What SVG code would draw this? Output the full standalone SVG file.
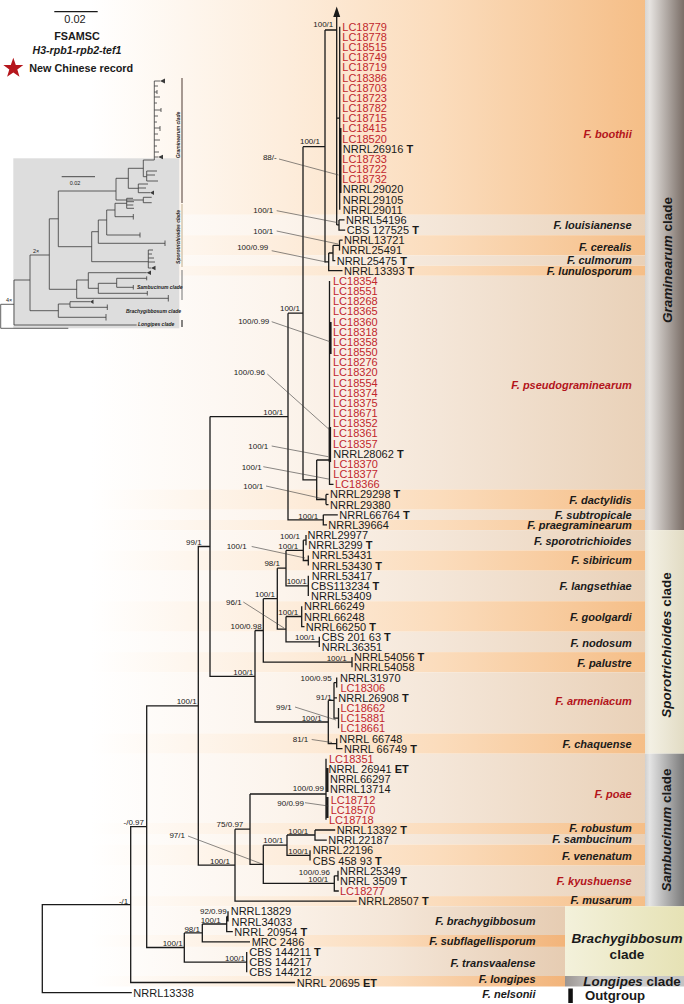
<svg xmlns="http://www.w3.org/2000/svg" width="684" height="1004" viewBox="0 0 684 1004">
<defs>
<linearGradient id="gO" gradientUnits="userSpaceOnUse" x1="90" y1="0" x2="645" y2="0">
<stop offset="0" stop-color="#ffffff"/><stop offset="0.35" stop-color="#fdeddc"/><stop offset="0.63" stop-color="#fbdcbc"/><stop offset="1" stop-color="#f5be87"/>
</linearGradient>
<linearGradient id="gL" gradientUnits="userSpaceOnUse" x1="90" y1="0" x2="645" y2="0">
<stop offset="0" stop-color="#ffffff"/><stop offset="0.35" stop-color="#fcf4ec"/><stop offset="0.63" stop-color="#f4e6d8"/><stop offset="1" stop-color="#e9d1b8"/>
</linearGradient>
<linearGradient id="gO2" gradientUnits="userSpaceOnUse" x1="90" y1="0" x2="565" y2="0">
<stop offset="0" stop-color="#ffffff"/><stop offset="0.35" stop-color="#fdeddc"/><stop offset="0.63" stop-color="#fbdcbc"/><stop offset="1" stop-color="#f2b47a"/>
</linearGradient>
<linearGradient id="gL2" gradientUnits="userSpaceOnUse" x1="90" y1="0" x2="565" y2="0">
<stop offset="0" stop-color="#ffffff"/><stop offset="0.35" stop-color="#fcf4ec"/><stop offset="0.63" stop-color="#f4e6d8"/><stop offset="1" stop-color="#e6ccb2"/>
</linearGradient>
<linearGradient id="gGram" gradientUnits="userSpaceOnUse" x1="645" y1="0" x2="684" y2="0">
<stop offset="0" stop-color="#d8d5d2"/><stop offset="0.12" stop-color="#e6e3e0"/><stop offset="1" stop-color="#7a6e67"/>
</linearGradient>
<linearGradient id="gSpor" gradientUnits="userSpaceOnUse" x1="645" y1="0" x2="684" y2="0">
<stop offset="0" stop-color="#e8e4d8"/><stop offset="0.12" stop-color="#f3f0e4"/><stop offset="1" stop-color="#e2dcc4"/>
</linearGradient>
<linearGradient id="gSamb" gradientUnits="userSpaceOnUse" x1="645" y1="0" x2="684" y2="0">
<stop offset="0" stop-color="#d0d0d0"/><stop offset="0.12" stop-color="#e4e4e4"/><stop offset="1" stop-color="#7a7a7a"/>
</linearGradient>
<linearGradient id="gBrach" gradientUnits="userSpaceOnUse" x1="565" y1="0" x2="684" y2="0">
<stop offset="0" stop-color="#f3f1db"/><stop offset="1" stop-color="#e6e2b5"/>
</linearGradient>
<linearGradient id="gLong" gradientUnits="userSpaceOnUse" x1="565" y1="0" x2="684" y2="0">
<stop offset="0" stop-color="#9a9592"/><stop offset="0.3" stop-color="#d4d2d0"/><stop offset="1" stop-color="#c4c4c4"/>
</linearGradient>
<style>
text{font-family:"Liberation Sans",Arial,sans-serif}
.t{font-size:11px;fill:#1a1a1a}
.r{font-size:11px;fill:#c1272d}
.b{font-weight:bold}
.sp{font-size:11px;font-weight:bold;font-style:italic;text-anchor:end;fill:#1a1a1a}
.spr{fill:#b3141b}
.n{font-size:8px;text-anchor:end;fill:#1a1a1a}
.br{fill:none;stroke:#1a1a1a;stroke-width:1.3}
.th{fill:none;stroke:#1a1a1a;stroke-width:2.4}
.ld{fill:none;stroke:#3a3a3a;stroke-width:0.6}
.cl{font-size:13.5px;font-weight:bold;fill:#1a1a1a}
.in{fill:none;stroke:#3a3a3a;stroke-width:0.8}
.it{font-size:5px;font-weight:bold;font-style:italic;fill:#222}
</style>
</defs>
<rect width="684" height="1004" fill="#ffffff"/>
<g id="bands">
<rect x="0" y="0" width="645" height="214.8" fill="url(#gO)"/>
<rect x="0" y="214.8" width="645" height="20.4" fill="url(#gL)"/>
<rect x="0" y="235.2" width="645" height="20.3" fill="url(#gO)"/>
<rect x="0" y="255.5" width="645" height="10.2" fill="url(#gL)"/>
<rect x="0" y="265.7" width="645" height="10.1" fill="url(#gO)"/>
<rect x="0" y="275.8" width="645" height="213.6" fill="url(#gL)"/>
<rect x="0" y="489.4" width="645" height="20.3" fill="url(#gO)"/>
<rect x="0" y="509.7" width="645" height="10.3" fill="url(#gL)"/>
<rect x="0" y="520" width="645" height="10.1" fill="url(#gO)"/>
<rect x="0" y="530.1" width="645" height="20.3" fill="url(#gL)"/>
<rect x="0" y="550.4" width="645" height="20.3" fill="url(#gO)"/>
<rect x="0" y="570.7" width="645" height="30.5" fill="url(#gL)"/>
<rect x="0" y="601.2" width="645" height="30.5" fill="url(#gO)"/>
<rect x="0" y="631.7" width="645" height="20.4" fill="url(#gL)"/>
<rect x="0" y="652.1" width="645" height="20.3" fill="url(#gO)"/>
<rect x="0" y="672.4" width="645" height="61" fill="url(#gL)"/>
<rect x="0" y="733.4" width="645" height="20.3" fill="url(#gO)"/>
<rect x="0" y="753.7" width="645" height="69.3" fill="url(#gL)"/>
<rect x="0" y="823" width="645" height="11" fill="url(#gO)"/>
<rect x="0" y="834" width="645" height="10.5" fill="url(#gL)"/>
<rect x="0" y="844.5" width="645" height="21.1" fill="url(#gO)"/>
<rect x="0" y="865.6" width="645" height="30.5" fill="url(#gL)"/>
<rect x="0" y="896.1" width="645" height="10.2" fill="url(#gO)"/>
<rect x="0" y="906.3" width="565" height="28.7" fill="url(#gL2)"/>
<rect x="0" y="935" width="565" height="11.9" fill="url(#gO2)"/>
<rect x="0" y="946.9" width="565" height="29.1" fill="url(#gL2)"/>
<rect x="0" y="976" width="565" height="10.5" fill="url(#gO2)"/>
</g>
<g id="clade-bars">
<rect x="645" y="0" width="39" height="530.1" fill="url(#gGram)"/>
<rect x="645" y="530.1" width="39" height="223.6" fill="url(#gSpor)"/>
<rect x="645" y="753.7" width="39" height="152.6" fill="url(#gSamb)"/>
<rect x="565" y="906.3" width="119" height="69.7" fill="url(#gBrach)"/>
<rect x="565" y="976" width="119" height="10.5" fill="url(#gLong)"/>
<rect x="568.3" y="988.5" width="4.5" height="14.5" fill="#111"/>
<text class="cl" transform="rotate(-90 667.5 260)" x="667.5" y="264.8" text-anchor="middle"><tspan font-style="italic">Graminearum</tspan> clade</text>
<text class="cl" transform="rotate(-90 666.5 645)" x="666.5" y="649.8" text-anchor="middle"><tspan font-style="italic">Sporotrichioides</tspan> clade</text>
<text class="cl" transform="rotate(-90 666.5 830)" x="666.5" y="834.8" text-anchor="middle"><tspan font-style="italic">Sambucinum</tspan> clade</text>
<text class="cl" x="627" y="943" text-anchor="middle" font-style="italic" style="font-size:13.6px">Brachygibbosum</text>
<text class="cl" x="627" y="959" text-anchor="middle" style="font-size:13.6px">clade</text>
<text class="cl" x="583.3" y="985.5" style="font-size:13.4px"><tspan font-style="italic">Longipes</tspan> clade</text>
<text class="cl" x="585" y="1000" style="font-size:13.2px">Outgroup</text>
</g>
<g id="inset">
<rect x="13.3" y="158.3" width="166" height="170" fill="#dddddd"/>
<path class="in" d="M0.7,304.3V328.3H68.3M0.7,304.3H14M14,280V325H136.7M14,280H30M30,255V310.7H58.3M30,255H49.3M58.3,304V317.3H106M106,314V320.5M58.3,304H70M70,301.7V307.3H107.3M107.3,304.5V310M70,301.7H90M49.3,218.8V289.3H76.7M49.3,218.8H58.3M76.7,280V298.3H168.3M168.3,295V301.5M76.7,280H88.3M88.3,272.7V288.3H98.3M88.3,272.7H146.7M98.3,283.3V293.3H147.3M147.3,291V295.5M98.3,283.3H116.7M116.7,278.3V287.3H133.3M133.3,285V289.5M116.7,278.3H146.7M146.7,276.3V280.3M58.3,191V246.7H91.7M58.3,191H116M91.7,231.7V261.7H148.3M148.3,250V268M148.3,250H153M148.3,254H152M148.3,258H154M148.3,262H155M148.3,268H151M91.7,231.7H98.3M98.3,220V243.3H165M165,240.5V246M98.3,220H106.7M106.7,210V235H140M140,232.5V237.5M106.7,210H115M115,203.3V216.7H133.3M133.3,214V219.5M115,203.3H126.7M126.7,198.3V208.3M126.7,198.3H133M126.7,201.7H134M126.7,205H133.3M126.7,208.3H134M116,178.3V200H143.3M143.3,197.3V202.7M143.3,197.3H151.7M143.3,202.7H151.7M116,178.3H128.3M128.3,168.3V188.3H138.3M138.3,184V192.7M138.3,184H148M138.3,188H146M138.3,192.7H150M128.3,168.3H143.3M143.3,160V176.7H146.7M146.7,171V181M146.7,171H157M146.7,175H155M146.7,181H158M143.3,160H154.3M154.3,81V160M154.3,81H160M154.3,86H158M154.3,92H157M157,90V94M154.3,97H160M154.3,103H157M154.3,110H161M161,108V112M154.3,116H158M154.3,122H157M154.3,128H160M160,126V131M154.3,134H158M154.3,140H160M154.3,146H157M154.3,152H159M154.3,157H158"/>
<g fill="#3a3a3a">
<polygon points="90,301.7 93.5,299.5 93.5,303.9"/>
<polygon points="146.7,272.7 151,270.5 151,274.9"/>
<polygon points="151,268 155.5,265.8 155.5,270.2"/>
<polygon points="150,192.7 154,190.5 154,194.9"/>
<polygon points="160,81 165,78.5 165,83.5"/>
<polygon points="158,157 163,154.7 163,159.3"/>
</g>
<path d="M61.7,176.7H95" stroke="#222" stroke-width="0.8"/>
<text x="75" y="184.5" text-anchor="middle" style="font-size:5.5px;fill:#222">0.02</text>
<text x="33" y="252.5" style="font-size:5.5px;fill:#222">2×</text>
<text x="6" y="302" style="font-size:5.5px;fill:#222">4×</text>
<line x1="182" y1="78" x2="182" y2="203" stroke="#6b5a52" stroke-width="1.2"/>
<line x1="182" y1="204" x2="182" y2="267" stroke="#cbbb9e" stroke-width="1.2"/>
<line x1="182" y1="270" x2="182" y2="300" stroke="#8a8a8a" stroke-width="1.2"/>
<line x1="182" y1="320" x2="182" y2="327" stroke="#333" stroke-width="1.2"/>
<text class="it" transform="rotate(-90 178.5 135)" x="178.5" y="136.8" text-anchor="middle">Graminearum clade</text>
<text class="it" transform="rotate(-90 178.5 237)" x="178.5" y="238.8" text-anchor="middle">Sporotrichioides clade</text>
<text class="it" x="137" y="288.5">Sambucinum clade</text>
<text class="it" x="126" y="312.5">Brachygibbosum clade</text>
<text class="it" x="138" y="325.5">Longipes clade</text>
</g>
<g id="legend">
<path d="M54.3,11.7H97.7" stroke="#1a1a1a" stroke-width="1.3"/>
<text x="75" y="23.3" text-anchor="middle" style="font-size:11px;fill:#1a1a1a">0.02</text>
<text x="77" y="40" text-anchor="middle" class="b" style="font-size:10.8px;fill:#1a1a1a">FSAMSC</text>
<text x="77" y="54" text-anchor="middle" class="b" style="font-size:10.6px;font-style:italic;fill:#1a1a1a">H3-rpb1-rpb2-tef1</text>
<polygon points="13.3,57.8 15.8,64.9 23.3,65.1 17.3,69.6 19.5,76.8 13.3,72.5 7.1,76.8 9.3,69.6 3.3,65.1 10.8,64.9" fill="#b5161c"/>
<text x="29.3" y="72.3" class="b" style="font-size:10.8px;fill:#1a1a1a">New Chinese record</text>
</g>
<g id="connectors">
<path class="br" d="M130.7,904.6H42.3V992.7H131.8M146.7,826.7H130.7V982.5H295M198.3,705.9H146.7V947.5H184.3M184.3,932.9V962.2H246.7M184.3,932.9H202.3M202.3,924V941.8H250M202.3,924H226.7M226.7,916.4V931.7H232.8M226.7,916.4H228M228,911.3V921.5M246.7,952V972.3M210,546.5H198.3V865.2H235M235,829.2V901.2H356.7M235,829.2H250M250,794V864.3H263.3M250,794H326M326,758.8V819.8M263.3,845.2V883.4H334.3M263.3,845.2H287M287,835V855.4H310M287,835H315M315,830V840.1H326.8M315,830H335.2M310,850.3V860.5M334.3,875.8V891H338.8M334.3,875.8H338M338,870.7V880.8M210,416.6V676.3H255M255,630.5V722H328.3M255,630.5H263.3M263.3,598.7V662.2H352M352,657.1V667.3M263.3,598.7H277.3M277.3,568.2V629.2H286M286,616.5V641.9H319.3M286,616.5H301.7M301.7,606.3V626.6H304.5M319.3,636.8V647M277.3,568.2H286M286,550.4V585.9H308.3M286,550.4H303.3M303.3,540.2V560.5H308.3M303.3,540.2H306M306,535.1V545.3M308.3,555.4V565.6M308.3,575.8V596.1M328.3,700.4V743.6H336.7M328.3,700.4H334M334,682.6V718.2H338.5M334,682.6H336.7M334,697.8H337M336.7,677.5V687.6M338.5,708V728.3M336.7,738.5V748.6H342.5M210,416.6H288M288,313.2V519.9H323.3M323.3,514.8V524.9H327M323.3,514.8H337.8M288,313.2H303M303,146.7V479.8H316.7M316.7,460V499.5H326M326,494.4V504.6M326,494.4H328.5M326,504.6H328.5M316.7,460H329.5M329.5,280.9V484.3H333.5M303,146.7H325M325,30V261.9H328.7M325,30H336.7M336.7,224.9V16M336.7,224.9H339M339,219.9V230.1H345.2M339,219.9H344.5M336.7,118.2H339.7M339.7,26.7V209.7M328.7,253V270.7H342.5M328.7,253H333M333,245.3V260.6H335.3M333,245.3H339.5M339.5,240.2V250.4M339.5,240.2H342.6"/>
<path class="th" d="M340.3,128V193M330.4,322V354M329.9,427V462M327.3,768V792M327.3,797V818"/>
<polygon points="336.7,6.5 333.2,17 340.2,17" fill="#1a1a1a"/>
<path class="ld" d="M279,159L338.5,175M276.7,210.7L337,222.5M276.7,231L338,244M271.7,250.7L326,262M271.7,321.7L330,341.7M267.3,374L329,429.3M271.7,446L328.3,456.7M263.3,466.7L330,479.3M266,486L324,499M251.7,546.5L305,558M243.3,602L284,628M295,707L336,720M311.7,739.5L332,742.5M305,802.7L328.3,806M188,836L262,864"/>
</g>
<g id="support-values">
<text class="n" x="333.3" y="27">100/1</text>
<text class="n" x="320" y="143.5">100/1</text>
<text class="n" x="276.7" y="160">88/-</text>
<text class="n" x="273.3" y="213">100/1</text>
<text class="n" x="273.3" y="233.5">100/1</text>
<text class="n" x="268.3" y="250">100/0.99</text>
<text class="n" x="300" y="311">100/1</text>
<text class="n" x="269.3" y="323.5">100/0.99</text>
<text class="n" x="265" y="374.5">100/0.96</text>
<text class="n" x="283.3" y="414.5">100/1</text>
<text class="n" x="268.3" y="448.5">100/1</text>
<text class="n" x="261.7" y="469.5">100/1</text>
<text class="n" x="263.3" y="488.5">100/1</text>
<text class="n" x="318.3" y="518.5">100/1</text>
<text class="n" x="300" y="538.5">100/1</text>
<text class="n" x="298.3" y="548.8">100/1</text>
<text class="n" x="246.7" y="549">100/1</text>
<text class="n" x="280" y="566">98/1</text>
<text class="n" x="306.7" y="584">100/1</text>
<text class="n" x="275" y="596.5">100/1</text>
<text class="n" x="241.7" y="604.5">96/1</text>
<text class="n" x="298.3" y="615">100/1</text>
<text class="n" x="261.7" y="629">100/0.98</text>
<text class="n" x="315" y="639.5">100/1</text>
<text class="n" x="346.7" y="661">100/1</text>
<text class="n" x="253.3" y="675">100/1</text>
<text class="n" x="331.7" y="681">100/0.95</text>
<text class="n" x="331.7" y="699.5">91/1</text>
<text class="n" x="291.7" y="709.5">99/1</text>
<text class="n" x="321.7" y="720.5">100/1</text>
<text class="n" x="308.3" y="742">81/1</text>
<text class="n" x="324" y="791">100/0.99</text>
<text class="n" x="304" y="805.5">90/0.99</text>
<text class="n" x="243.3" y="827">75/0.97</text>
<text class="n" x="308.3" y="833.5">100/1</text>
<text class="n" x="283.3" y="843">100/1</text>
<text class="n" x="185" y="838">97/1</text>
<text class="n" x="308.3" y="854">100/1</text>
<text class="n" x="230" y="863.5">100/1</text>
<text class="n" x="330" y="874.5">100/0.96</text>
<text class="n" x="328.3" y="882">100/1</text>
<text class="n" x="128.3" y="903.5">-/1</text>
<text class="n" x="226.7" y="913.5">92/0.99</text>
<text class="n" x="220.7" y="922.5">100/1</text>
<text class="n" x="200" y="931.5">98/1</text>
<text class="n" x="182.7" y="946">100/1</text>
<text class="n" x="245" y="960.5">100/1</text>
<text class="n" x="201.7" y="545">99/1</text>
<text class="n" x="196.7" y="704">100/1</text>
<text class="n" x="144" y="824.5">-/0.97</text>
</g>
<g id="sp-boothii">
<text class="r" x="342.3" y="30.7">LC18779</text>
<text class="r" x="342.3" y="40.9">LC18778</text>
<text class="r" x="342.3" y="51">LC18515</text>
<text class="r" x="342.3" y="61.2">LC18749</text>
<text class="r" x="342.3" y="71.4">LC18719</text>
<text class="r" x="342.3" y="81.5">LC18386</text>
<text class="r" x="342.3" y="91.7">LC18703</text>
<text class="r" x="342.3" y="101.9">LC18723</text>
<text class="r" x="342.3" y="112">LC18782</text>
<text class="r" x="342.3" y="122.2">LC18715</text>
<text class="r" x="342.3" y="132.4">LC18415</text>
<text class="r" x="342.3" y="142.5">LC18520</text>
<text class="t" x="342.8" y="152.7">NRRL26916 <tspan class="b">T</tspan></text>
<text class="r" x="342.3" y="162.9">LC18733</text>
<text class="r" x="342.3" y="173.1">LC18722</text>
<text class="r" x="342.3" y="183.2">LC18732</text>
<text class="t" x="342.8" y="193.4">NRRL29020</text>
<text class="t" x="342.8" y="203.6">NRRL29105</text>
<text class="t" x="342.8" y="213.7">NRRL29011</text>
<text class="sp spr" x="631.7" y="137.5">F. boothii</text>
</g>
<g id="sp-louisianense">
<text class="t" x="346" y="223.9">NRRL54196</text>
<text class="t" x="346.7" y="234.1">CBS 127525 <tspan class="b">T</tspan></text>
<text class="sp" x="631.7" y="229.3">F. louisianense</text>
</g>
<g id="sp-cerealis">
<text class="t" x="344" y="244.2">NRRL13721</text>
<text class="t" x="341.5" y="254.4">NRRL25491</text>
<text class="sp" x="631.7" y="250.5">F. cerealis</text>
</g>
<g id="sp-culmorum">
<text class="t" x="336.7" y="264.6">NRRL25475 <tspan class="b">T</tspan></text>
<text class="sp" x="631.7" y="264">F. culmorum</text>
</g>
<g id="sp-lunulosporum">
<text class="t" x="344" y="274.7">NRRL13393 <tspan class="b">T</tspan></text>
<text class="sp" x="631.7" y="274.5">F. lunulosporum</text>
</g>
<g id="sp-pseudograminearum">
<text class="r" x="333" y="284.9">LC18354</text>
<text class="r" x="333" y="295.1">LC18551</text>
<text class="r" x="333" y="305.2">LC18268</text>
<text class="r" x="333" y="315.4">LC18365</text>
<text class="r" x="333" y="325.6">LC18360</text>
<text class="r" x="333" y="335.7">LC18318</text>
<text class="r" x="333" y="345.9">LC18358</text>
<text class="r" x="333" y="356.1">LC18550</text>
<text class="r" x="333" y="366.2">LC18276</text>
<text class="r" x="333" y="376.4">LC18320</text>
<text class="r" x="333" y="386.6">LC18554</text>
<text class="r" x="333" y="396.7">LC18374</text>
<text class="r" x="333" y="406.9">LC18375</text>
<text class="r" x="333" y="417.1">LC18671</text>
<text class="r" x="333" y="427.3">LC18352</text>
<text class="r" x="333" y="437.4">LC18361</text>
<text class="r" x="333" y="447.6">LC18357</text>
<text class="t" x="333.3" y="457.8">NRRL28062 <tspan class="b">T</tspan></text>
<text class="r" x="333.3" y="467.9">LC18370</text>
<text class="r" x="333.3" y="478.1">LC18377</text>
<text class="r" x="335" y="488.3">LC18366</text>
<text class="sp spr" x="631.7" y="388.5">F. pseudograminearum</text>
</g>
<g id="sp-dactylidis">
<text class="t" x="330" y="498.4">NRRL29298 <tspan class="b">T</tspan></text>
<text class="t" x="330" y="508.6">NRRL29380</text>
<text class="sp" x="631.7" y="503.5">F. dactylidis</text>
</g>
<g id="sp-subtropicale">
<text class="t" x="339.3" y="518.8">NRRL66764 <tspan class="b">T</tspan></text>
<text class="sp" x="631.7" y="518.5">F. subtropicale</text>
</g>
<g id="sp-praegraminearum">
<text class="t" x="328.3" y="528.9">NRRL39664</text>
<text class="sp" x="631.7" y="528.5">F. praegraminearum</text>
</g>
<g id="sp-sporotrichioides">
<text class="t" x="307.5" y="539.1">NRRL29977</text>
<text class="t" x="308.3" y="549.3">NRRL3299 <tspan class="b">T</tspan></text>
<text class="sp" x="631.7" y="544.5">F. sporotrichioides</text>
</g>
<g id="sp-sibiricum">
<text class="t" x="311.7" y="559.4">NRRL53431</text>
<text class="t" x="311.7" y="569.6">NRRL53430 <tspan class="b">T</tspan></text>
<text class="sp" x="631.7" y="564.3">F. sibiricum</text>
</g>
<g id="sp-langsethiae">
<text class="t" x="311.7" y="579.8">NRRL53417</text>
<text class="t" x="311" y="589.9">CBS113234 <tspan class="b">T</tspan></text>
<text class="t" x="311" y="600.1">NRRL53409</text>
<text class="sp" x="631.7" y="589.5">F. langsethiae</text>
</g>
<g id="sp-goolgardi">
<text class="t" x="304" y="610.3">NRRL66249</text>
<text class="t" x="304" y="620.5">NRRL66248</text>
<text class="t" x="305.7" y="630.6">NRRL66250 <tspan class="b">T</tspan></text>
<text class="sp" x="631.7" y="620.5">F. goolgardi</text>
</g>
<g id="sp-nodosum">
<text class="t" x="321.7" y="640.8">CBS 201 63 <tspan class="b">T</tspan></text>
<text class="t" x="321.7" y="651">NRRL36351</text>
<text class="sp" x="631.7" y="646.5">F. nodosum</text>
</g>
<g id="sp-palustre">
<text class="t" x="354" y="661.1">NRRL54056 <tspan class="b">T</tspan></text>
<text class="t" x="354" y="671.3">NRRL54058</text>
<text class="sp" x="631.7" y="666.5">F. palustre</text>
</g>
<g id="sp-armeniacum">
<text class="t" x="340" y="681.5">NRRL31970</text>
<text class="r" x="340.5" y="691.6">LC18306</text>
<text class="t" x="338.3" y="701.8">NRRL26908 <tspan class="b">T</tspan></text>
<text class="r" x="340.5" y="712">LC18662</text>
<text class="r" x="340.5" y="722.1">LC15881</text>
<text class="r" x="340.5" y="732.3">LC18661</text>
<text class="sp spr" x="631.7" y="705">F. armeniacum</text>
</g>
<g id="sp-chaquense">
<text class="t" x="339.3" y="742.5">NRRL 66748</text>
<text class="t" x="344" y="752.6">NRRL 66749 <tspan class="b">T</tspan></text>
<text class="sp" x="631.7" y="747.5">F. chaquense</text>
</g>
<g id="sp-poae">
<text class="r" x="329" y="762.8">LC18351</text>
<text class="t" x="328.5" y="773">NRRL 26941 <tspan class="b">ET</tspan></text>
<text class="t" x="330" y="783.1">NRRL66297</text>
<text class="t" x="330" y="793.3">NRRL13714</text>
<text class="r" x="330.7" y="803.5">LC18712</text>
<text class="r" x="330.7" y="813.6">LC18570</text>
<text class="r" x="329" y="823.8">LC18718</text>
<text class="sp spr" x="631.7" y="797.5">F. poae</text>
</g>
<g id="sp-robustum">
<text class="t" x="336.7" y="834">NRRL13392 <tspan class="b">T</tspan></text>
<text class="sp" x="631.7" y="831.5">F. robustum</text>
</g>
<g id="sp-sambucinum">
<text class="t" x="328.3" y="844.1">NRRL22187</text>
<text class="sp" x="631.7" y="843">F. sambucinum</text>
</g>
<g id="sp-venenatum">
<text class="t" x="312.7" y="854.3">NRRL22196</text>
<text class="t" x="312.7" y="864.5">CBS 458 93 <tspan class="b">T</tspan></text>
<text class="sp" x="631.7" y="860">F. venenatum</text>
</g>
<g id="sp-kyushuense">
<text class="t" x="340" y="874.7">NRRL25349</text>
<text class="t" x="340" y="884.8">NRRL 3509 <tspan class="b">T</tspan></text>
<text class="r" x="340" y="895">LC18277</text>
<text class="sp spr" x="631.7" y="884.5">F. kyushuense</text>
</g>
<g id="sp-musarum">
<text class="t" x="358.3" y="905.2">NRRL28507 <tspan class="b">T</tspan></text>
<text class="sp" x="631.7" y="904.3">F. musarum</text>
</g>
<g id="sp-brachygibbosum">
<text class="t" x="230.7" y="915.3">NRRL13829</text>
<text class="t" x="231.5" y="925.5">NRRL34033</text>
<text class="t" x="234.3" y="935.7">NRRL 20954 <tspan class="b">T</tspan></text>
<text class="sp" x="535.5" y="924.5">F. brachygibbosum</text>
</g>
<g id="sp-subflagellisporum">
<text class="t" x="251.7" y="945.8">MRC 2486</text>
<text class="sp" x="535.5" y="944.5">F. subflagellisporum</text>
</g>
<g id="sp-transvaalense">
<text class="t" x="249.3" y="956">CBS 144211 <tspan class="b">T</tspan></text>
<text class="t" x="249.3" y="966.2">CBS 144217</text>
<text class="t" x="249.3" y="976.3">CBS 144212</text>
<text class="sp" x="535.5" y="966.5">F. transvaalense</text>
</g>
<g id="sp-longipes">
<text class="t" x="296.7" y="986.5">NRRL 20695 <tspan class="b">ET</tspan></text>
<text class="sp" x="535.5" y="983">F. longipes</text>
</g>
<g id="sp-nelsonii">
<text class="t" x="133.3" y="996.7">NRRL13338</text>
<text class="sp" x="535.5" y="997.5">F. nelsonii</text>
</g>
</svg>
